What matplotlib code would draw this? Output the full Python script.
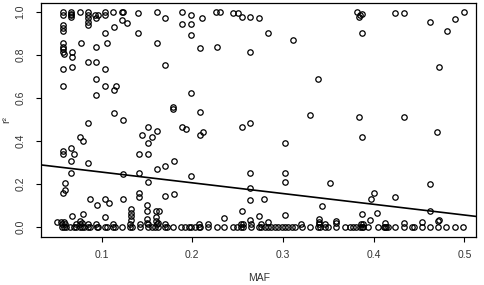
import matplotlib
matplotlib.use('Agg')
import matplotlib.pyplot as plt
import numpy as np

plt.rcParams['font.family'] = ['Liberation Sans', 'DejaVu Sans']

# points near r2 = 1
maf_top = [0.057, 0.057, 0.066, 0.066, 0.066, 0.066, 0.076, 0.085, 0.085, 0.085, 0.085, 0.085,
           0.093, 0.094, 0.096, 0.104, 0.104, 0.113, 0.122, 0.124, 0.122, 0.128, 0.140,
           0.057, 0.057, 0.057, 0.114, 0.104, 0.140,
           0.057, 0.057, 0.057, 0.057, 0.058, 0.067, 0.067, 0.077, 0.094, 0.106,
           0.057, 0.067, 0.085, 0.094, 0.104, 0.094, 0.057, 0.104, 0.114, 0.116, 0.094,
           0.161, 0.170, 0.189, 0.198, 0.189, 0.198, 0.198, 0.211, 0.226, 0.230, 0.245, 0.250,
           0.255, 0.264, 0.273, 0.283, 0.311, 0.161, 0.208, 0.227, 0.264, 0.170, 0.339, 0.198,
           0.179, 0.179, 0.208, 0.330,
           0.382, 0.385, 0.387, 0.384, 0.424, 0.434, 0.500, 0.490, 0.462, 0.481, 0.387, 0.472,
           0.384, 0.434]
r2_top = [1.000, 0.985, 1.000, 0.993, 0.985, 0.978, 1.000, 1.000, 0.985, 0.970, 0.955, 0.940,
          0.985, 0.970, 0.985, 1.000, 0.985, 1.000, 1.000, 1.000, 0.963, 0.950, 0.994,
          0.940, 0.924, 0.911, 0.932, 0.900, 0.900,
          0.854, 0.839, 0.826, 0.815, 0.804, 0.815, 0.792, 0.854, 0.838, 0.854,
          0.735, 0.745, 0.768, 0.768, 0.733, 0.686, 0.655, 0.655, 0.637, 0.655, 0.613,
          1.000, 0.974, 1.000, 0.986, 0.943, 0.943, 0.894, 0.970, 1.000, 1.000, 0.994, 0.994,
          0.978, 0.978, 0.970, 0.900, 0.870, 0.854, 0.831, 0.838, 0.812, 0.753, 0.688, 0.621,
          0.559, 0.550, 0.533, 0.520,
          1.000, 0.986, 0.991, 0.978, 0.997, 0.997, 1.000, 0.967, 0.955, 0.913, 0.900, 0.742,
          0.512, 0.512]

# middle band
maf_mid = [0.057, 0.057, 0.066, 0.069, 0.066, 0.066, 0.076, 0.079, 0.085, 0.085, 0.114, 0.123,
           0.123, 0.060, 0.060, 0.057, 0.141, 0.141, 0.151, 0.144, 0.155, 0.161, 0.151, 0.151,
           0.161, 0.151, 0.141, 0.141, 0.087, 0.104, 0.123,
           0.189, 0.193, 0.208, 0.212, 0.255, 0.264, 0.302, 0.170, 0.180, 0.198, 0.264, 0.264,
           0.264, 0.279, 0.302, 0.302, 0.170, 0.180, 0.163, 0.255, 0.235, 0.274, 0.283, 0.302,
           0.264,
           0.387, 0.470, 0.352, 0.462, 0.424, 0.400, 0.397, 0.343, 0.462, 0.387, 0.404, 0.396,
           0.472]
r2_mid = [0.354, 0.339, 0.365, 0.339, 0.306, 0.252, 0.419, 0.400, 0.484, 0.295, 0.531, 0.497,
          0.244, 0.205, 0.171, 0.158, 0.337, 0.252, 0.463, 0.427, 0.416, 0.446, 0.388, 0.337,
          0.267, 0.210, 0.156, 0.140, 0.129, 0.129, 0.129,
          0.463, 0.455, 0.427, 0.440, 0.463, 0.482, 0.391, 0.284, 0.306, 0.238, 0.249, 0.182,
          0.126, 0.128, 0.249, 0.210, 0.144, 0.151, 0.075, 0.075, 0.042, 0.050, 0.023, 0.054,
          0.031,
          0.416, 0.440, 0.205, 0.199, 0.140, 0.156, 0.128, 0.098, 0.075, 0.059, 0.065, 0.031,
          0.031]

# low values above zero
maf_low = [0.095, 0.108, 0.150, 0.150, 0.160, 0.132, 0.132, 0.132, 0.132, 0.079, 0.067, 0.104,
           0.150, 0.150, 0.160, 0.160, 0.162, 0.051, 0.055, 0.058, 0.076, 0.078, 0.340, 0.340,
           0.359, 0.359, 0.412, 0.433, 0.453, 0.471]
r2_low = [0.101, 0.112, 0.101, 0.075, 0.075, 0.082, 0.065, 0.050, 0.031, 0.059, 0.050, 0.044,
          0.034, 0.019, 0.044, 0.028, 0.016, 0.023, 0.023, 0.023, 0.028, 0.016, 0.034, 0.023,
          0.027, 0.016, 0.016, 0.016, 0.020, 0.028]

# rows at r2 ~ 0
maf_zero = [0.056, 0.058, 0.061, 0.065, 0.069, 0.072, 0.076, 0.078, 0.080, 0.085, 0.087, 0.095,
            0.096, 0.104, 0.106, 0.113, 0.115, 0.122, 0.131, 0.133, 0.142, 0.151, 0.155, 0.159,
            0.162, 0.170, 0.172, 0.179, 0.188, 0.192, 0.196, 0.199, 0.203, 0.207, 0.208, 0.217,
            0.227, 0.235, 0.245, 0.249, 0.254, 0.256, 0.265, 0.273, 0.276, 0.280, 0.284, 0.287,
            0.291, 0.295, 0.299, 0.302, 0.306, 0.310, 0.313, 0.321, 0.330, 0.339, 0.341, 0.346,
            0.350, 0.359, 0.368, 0.374, 0.377, 0.381, 0.385, 0.387, 0.388, 0.394, 0.405, 0.411,
            0.412, 0.414, 0.416, 0.423, 0.433, 0.442, 0.445, 0.453, 0.462, 0.471, 0.480, 0.490,
            0.499]
r2_zero = [0.0] * len(maf_zero)
maf_zero2 = [0.056, 0.060, 0.072, 0.076, 0.085, 0.094, 0.113, 0.131, 0.142, 0.151, 0.161, 0.170,
             0.207, 0.217, 0.254, 0.256, 0.265, 0.276, 0.320, 0.340, 0.346, 0.386, 0.388]
r2_zero2 = [0.010] * len(maf_zero2)

# fitted line r2 = a + b * MAF
fit_a = 0.304
fit_b = -0.50

maf = maf_top + maf_mid + maf_low + maf_zero + maf_zero2
r2 = r2_top + r2_mid + r2_low + r2_zero + r2_zero2

fig = plt.figure(figsize=(4.84, 2.85), dpi=100)
ax = fig.add_axes([0.0853, 0.1695, 0.8982, 0.8185])
ax.plot(maf, r2, 'o', mfc='none', mec='black', ms=3.9, mew=0.9, ls='none')
ax.axline((0, fit_a), slope=fit_b, color='black', lw=1.2)

ax.set_xlim(0.0334, 0.5129)
ax.set_ylim(-0.047, 1.04)
ax.set_xticks([0.1, 0.2, 0.3, 0.4, 0.5])
ax.set_xticklabels(['0.1', '0.2', '0.3', '0.4', '0.5'])
ax.set_yticks([0.0, 0.2, 0.4, 0.6, 0.8, 1.0])
ax.set_yticklabels(['0.0', '0.2', '0.4', '0.6', '0.8', '1.0'], rotation=90, va='center')
ax.tick_params(direction='out', length=3.6, width=0.8, labelsize=7.5, color='black',
               labelcolor='#333333')
ax.tick_params(axis='x', pad=6)
ax.tick_params(axis='y', pad=8)
for s in ax.spines.values():
    s.set_linewidth(0.9)

ax.set_xlabel('MAF', fontsize=7.5, color='#333333', labelpad=9)
ax.set_ylabel('r²', fontsize=7.5, color='#333333', labelpad=3)

fig.savefig('out.png', dpi=100)
